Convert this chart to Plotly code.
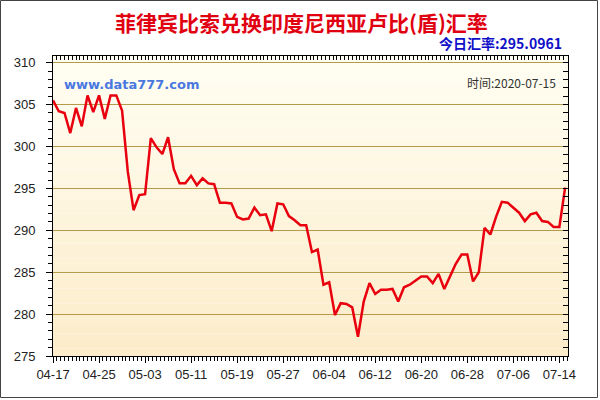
import pandas as pd
import plotly.graph_objects as go

# ---- data ----
start_date = "2020-04-17"
rates = [
    305.5, 304.2, 304.0, 301.6, 304.6, 302.4, 306.1, 304.1, 306.1, 303.3,
    306.1, 306.1, 304.3, 297.0, 292.4, 294.2, 294.3, 301.0, 299.9, 299.1,
    301.1, 297.3, 295.6, 295.6, 296.5, 295.4, 296.2, 295.6, 295.5, 293.3,
    293.3, 293.2, 291.6, 291.3, 291.4, 292.7, 291.8, 291.9, 289.9, 293.2,
    293.1, 291.7, 291.2, 290.6, 290.6, 287.4, 287.7, 283.5, 283.8, 279.9,
    281.3, 281.2, 280.8, 277.3, 281.5, 283.7, 282.4, 282.9, 282.9, 283.0,
    281.5, 283.2, 283.5, 284.0, 284.5, 284.5, 283.7, 284.8, 283.0, 284.5,
    286.0, 287.1, 287.1, 283.9, 285.0, 290.3, 289.5, 291.6, 293.4, 293.3,
    292.7, 292.1, 291.1, 291.9, 292.1, 291.1, 291.0, 290.4, 290.4, 295.0961,
]
dates = pd.date_range(start_date, periods=len(rates), freq="D")
y_tick_vals = [275, 280, 285, 290, 295, 300, 305, 310]
title_text = "菲律宾比索兑换印度尼西亚卢比(盾)汇率"
today_text = "今日汇率:295.0961"
date_text = "时间:2020-07-15"
site_text = "www.data777.com"

# ---- layout constants ----
W, H = 600, 400
L, R, T, B = 53, 32, 56, 44
PW, PH = W - L - R, H - T - B

def px_x(p):
    return (p - L) / PW

def px_y(p):
    return (H - B - p) / PH

x_range = ["2020-04-17 00:00", "2020-07-15 12:00"]
y_range = [275, 310.8]
DAY = 86400000

fig = go.Figure()

fig.add_trace(go.Scatter(
    x=dates, y=rates, mode="lines",
    line=dict(color="#E8000E", width=2.5),
    hoverinfo="skip", showlegend=False,
))
# helper trace so the mirrored (top/right) axes are drawn
fig.add_trace(go.Scatter(
    x=dates, y=rates, mode="lines", xaxis="x2", yaxis="y2",
    line=dict(width=0), opacity=0, hoverinfo="skip", showlegend=False,
))

# gradient plot background
n = 40
top_c = (255, 254, 242)
bot_c = (252, 236, 202)
for i in range(n):
    t = i / (n - 1)
    c = tuple(round(top_c[k] + (bot_c[k] - top_c[k]) * t) for k in range(3))
    fig.add_shape(type="rect", xref="x domain", yref="y domain",
                  x0=0, x1=1, y0=1 - (i + 1) / n, y1=1 - i / n,
                  fillcolor="rgb(%d,%d,%d)" % c, line=dict(width=0),
                  layer="below")

# outer frame
fig.add_shape(type="rect", xref="paper", yref="paper",
              x0=px_x(0.5), x1=px_x(597.5), y0=px_y(397.5), y1=px_y(0.5),
              line=dict(color="#444444", width=1), fillcolor="rgba(0,0,0,0)")

tickfont = dict(family="Liberation Sans, Arial", size=13, color="#222222")

fig.update_layout(
    width=W, height=H,
    margin=dict(l=L, r=R, t=T, b=B),
    paper_bgcolor="white",
    plot_bgcolor="rgba(0,0,0,0)",
    showlegend=False,
    xaxis=dict(
        type="date", range=x_range,
        tick0=start_date, dtick=8 * DAY, tickformat="%m-%d",
        ticks="outside", ticklen=6, tickcolor="#000", tickwidth=1,
        minor=dict(dtick=8 * DAY / 12, tick0=start_date, ticks="outside",
                   ticklen=4, tickcolor="#000", showgrid=False),
        showgrid=False, showline=True, linecolor="#000", linewidth=1,
        tickfont=tickfont, zeroline=False, fixedrange=True,
    ),
    xaxis2=dict(
        type="date", range=x_range, overlaying="x", side="top",
        tick0=start_date, dtick=8 * DAY,
        ticks="inside", ticklen=4, tickcolor="#000",
        minor=dict(dtick=8 * DAY / 12, tick0=start_date, ticks="inside",
                   ticklen=4, tickcolor="#000", showgrid=False),
        showticklabels=False, showgrid=False, showline=True,
        linecolor="#000", linewidth=1, zeroline=False,
    ),
    yaxis=dict(
        range=y_range, tickvals=y_tick_vals,
        ticks="outside", ticklen=6, tickcolor="#000",
        minor=dict(dtick=1, tick0=275, ticks="outside", ticklen=4,
                   tickcolor="#000", showgrid=False),
        showgrid=True, gridcolor="#B59A4A", gridwidth=1,
        showline=True, linecolor="#000", linewidth=1,
        tickfont=tickfont, zeroline=False, ticklabelstandoff=8,
    ),
    yaxis2=dict(
        range=y_range, overlaying="y", side="right",
        tickvals=y_tick_vals, ticks="inside", ticklen=5, tickcolor="#000",
        minor=dict(dtick=1, tick0=275, ticks="inside", ticklen=5,
                   tickcolor="#000", showgrid=False),
        showticklabels=False, showgrid=False, showline=True,
        linecolor="#000", linewidth=1, zeroline=False,
    ),
    annotations=[
        dict(text="<b>" + title_text + "</b>", xref="paper", yref="paper",
             x=px_x(301), y=px_y(22), xanchor="center", yanchor="middle",
             showarrow=False,
             font=dict(family="Noto Sans CJK SC", size=21, color="#E00010")),
        dict(text="<b>" + today_text + "</b>", xref="paper", yref="paper",
             x=px_x(564), y=px_y(43), xanchor="right", yanchor="middle",
             showarrow=False,
             font=dict(family="Noto Sans CJK SC", size=14, color="#1010C8")),
        dict(text="<b>" + site_text + "</b>", xref="paper", yref="paper",
             x=px_x(62), y=px_y(84), xanchor="left", yanchor="middle",
             showarrow=False,
             font=dict(family="DejaVu Sans", size=13, color="#4A78E0")),
        dict(text=date_text, xref="paper", yref="paper",
             x=px_x(558), y=px_y(83), xanchor="right", yanchor="middle",
             showarrow=False,
             font=dict(family="Noto Sans CJK SC, Liberation Sans", size=12,
                       color="#333333")),
    ],
)

fig.write_html("out.html",
               config={"displayModeBar": False, "staticPlot": True},
               post_script="document.body.style.margin='0';"
                           "document.body.style.overflow='hidden';")
